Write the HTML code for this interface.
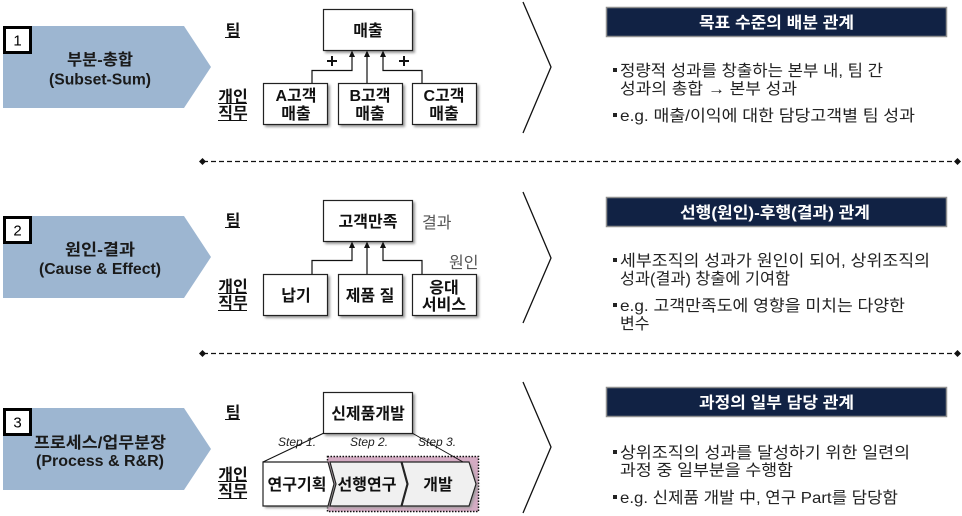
<!DOCTYPE html>
<html><head><meta charset="utf-8">
<style>
html,body{margin:0;padding:0;background:#fff;}
svg{display:block;}
text{font-family:"Liberation Sans","Noto Sans CJK KR",sans-serif;}
</style></head>
<body>
<svg width="962" height="516" viewBox="0 0 962 516" xmlns="http://www.w3.org/2000/svg">
<defs>
<filter id="sh" x="-20%" y="-20%" width="140%" height="140%">
<feGaussianBlur stdDeviation="1.2"/>
</filter>
</defs>

<!-- ===== LEFT CHEVRONS ===== -->
<g fill="#9db6d1">
<polygon points="3,26 184,26 211,67 184,108 3,108"/>
<polygon points="3,216 184,216 211,257 184,298 3,298"/>
<polygon points="3,408 184,408 211,449 184,490 3,490"/>
</g>
<g fill="#fff" stroke="#000" stroke-width="3">
<rect x="4.5" y="27.5" width="26" height="25"/>
<rect x="4.5" y="217.5" width="26" height="25"/>
<rect x="4.5" y="409.5" width="26" height="25"/>
</g>
<g font-size="15" text-anchor="middle" fill="#000">
<text x="17.5" y="45.5">1</text>
<text x="17.5" y="235.5">2</text>
<text x="17.5" y="427.5">3</text>
</g>
<g font-size="16" font-weight="bold" fill="#1a1a1a">
<text x="67" y="65" textLength="66" lengthAdjust="spacingAndGlyphs">부분-총합</text>
<text x="65" y="255" textLength="70" lengthAdjust="spacingAndGlyphs">원인-결과</text>
<text x="34" y="448" textLength="132" lengthAdjust="spacingAndGlyphs">프로세스/업무분장</text>
</g>
<g font-size="16" font-weight="bold" fill="#1a1a1a">
<text x="49" y="84.5" textLength="102" lengthAdjust="spacingAndGlyphs">(Subset-Sum)</text>
<text x="39" y="274" textLength="122" lengthAdjust="spacingAndGlyphs">(Cause &amp; Effect)</text>
<text x="36" y="466" textLength="128" lengthAdjust="spacingAndGlyphs">(Process &amp; R&amp;R)</text>
</g>

<!-- ===== 팀 / 개인 직무 labels ===== -->
<g font-size="16" font-weight="bold" text-anchor="middle" fill="#111">
<text x="233" y="36">팀</text>
<text x="233" y="102">개인</text>
<text x="233" y="118.5">직무</text>
<text x="233" y="226">팀</text>
<text x="233" y="292">개인</text>
<text x="233" y="308.5">직무</text>
<text x="233" y="418">팀</text>
<text x="233" y="480">개인</text>
<text x="233" y="496.5">직무</text>
</g>
<g stroke="#111" stroke-width="1">
<line x1="225" y1="37.5" x2="240" y2="37.5"/>
<line x1="218" y1="103.5" x2="247" y2="103.5"/>
<line x1="218" y1="120.5" x2="247" y2="120.5"/>
<line x1="225" y1="227.5" x2="240" y2="227.5"/>
<line x1="218" y1="293.5" x2="247" y2="293.5"/>
<line x1="218" y1="310.5" x2="247" y2="310.5"/>
<line x1="225" y1="419.5" x2="240" y2="419.5"/>
<line x1="218" y1="481.5" x2="247" y2="481.5"/>
<line x1="218" y1="498.5" x2="247" y2="498.5"/>
</g>

<!-- ===== SECTION 1 DIAGRAM ===== -->
<g fill="#999" filter="url(#sh)">
<rect x="325" y="11" width="90" height="42"/>
<rect x="265" y="85" width="65" height="42"/>
<rect x="340" y="85" width="65" height="42"/>
<rect x="414" y="85" width="65" height="42"/>
</g>
<g fill="#fff" stroke="#222" stroke-width="1.2">
<rect x="323.5" y="9.5" width="89" height="41"/>
<rect x="263.5" y="83.5" width="64" height="41"/>
<rect x="338.5" y="83.5" width="64" height="41"/>
<rect x="412.5" y="83.5" width="64" height="41"/>
</g>
<g font-size="16" font-weight="bold" text-anchor="middle" fill="#111">
<text x="368" y="36">매출</text>
<text x="296" y="101">A고객</text>
<text x="296" y="119">매출</text>
<text x="370" y="101">B고객</text>
<text x="370" y="119">매출</text>
<text x="444" y="101">C고객</text>
<text x="444" y="119">매출</text>
</g>
<g fill="none" stroke="#111" stroke-width="1.2">
<polyline points="312,83 312,70.5 352,70.5 352,56"/>
<line x1="367" y1="83" x2="367" y2="56"/>
<polyline points="422,83 422,70.5 383,70.5 383,56"/>
</g>
<g fill="#111">
<polygon points="349,57 355,57 352,50.5"/>
<polygon points="364,57 370,57 367,50.5"/>
<polygon points="380,57 386,57 383,50.5"/>
</g>
<g stroke="#111" stroke-width="2">
<line x1="327" y1="61" x2="337" y2="61"/><line x1="332" y1="56" x2="332" y2="66"/>
<line x1="399" y1="61" x2="409" y2="61"/><line x1="404" y1="56" x2="404" y2="66"/>
</g>

<!-- ===== SECTION 2 DIAGRAM ===== -->
<g fill="#999" filter="url(#sh)">
<rect x="325" y="202" width="90" height="42"/>
<rect x="265" y="276" width="65" height="42"/>
<rect x="340" y="276" width="65" height="42"/>
<rect x="414" y="276" width="65" height="42"/>
</g>
<g fill="#fff" stroke="#222" stroke-width="1.2">
<rect x="323.5" y="200.5" width="89" height="41"/>
<rect x="263.5" y="274.5" width="64" height="41"/>
<rect x="338.5" y="274.5" width="64" height="41"/>
<rect x="412.5" y="274.5" width="64" height="41"/>
</g>
<g font-size="16" font-weight="bold" text-anchor="middle" fill="#111">
<text x="368" y="227">고객만족</text>
<text x="296" y="301">납기</text>
<text x="370" y="301">제품 질</text>
<text x="444" y="293">응대</text>
<text x="444" y="310">서비스</text>
</g>
<g font-size="16" fill="#555">
<text x="422" y="228">결과</text>
<text x="449" y="268">원인</text>
</g>
<g fill="none" stroke="#111" stroke-width="1.2">
<polyline points="312,274 312,260.5 352,260.5 352,247"/>
<line x1="367" y1="274" x2="367" y2="247"/>
<polyline points="422,274 422,260.5 383,260.5 383,247"/>
</g>
<g fill="#111">
<polygon points="349,248 355,248 352,241.5"/>
<polygon points="364,248 370,248 367,241.5"/>
<polygon points="380,248 386,248 383,241.5"/>
</g>

<!-- ===== SECTION 3 DIAGRAM ===== -->
<rect x="327.5" y="456.5" width="151" height="55" fill="#d4abc3" stroke="#111" stroke-width="1.5" stroke-dasharray="1.5,1.5"/>
<g fill="#999" filter="url(#sh)">
<rect x="325" y="394" width="90" height="42"/>
<polygon points="265,464 330,464 336,486 330,508 265,508"/>
<polygon points="332,464 403,464 409,486 403,508 332,508 338,486"/>
<polygon points="404,464 471,464 478,486 471,508 404,508 410,486"/>
</g>
<rect x="323.5" y="392.5" width="89" height="41" fill="#fff" stroke="#222" stroke-width="1.2"/>
<g stroke="#222" stroke-width="1.2">
<polygon points="263,462 328,462 334,484 328,506 263,506" fill="#fff"/>
<polygon points="330,462 401,462 407,484 401,506 330,506 336,484" fill="#f0f0f0"/>
<polygon points="402,462 469,462 476,484 469,506 402,506 408,484" fill="#f0f0f0"/>
</g>
<g font-size="12" font-style="italic" fill="#222">
<text x="278" y="446">Step 1.</text>
<text x="350" y="446">Step 2.</text>
<text x="418" y="446">Step 3.</text>
</g>
<g stroke="#111" stroke-width="1">
<line x1="324" y1="433" x2="263" y2="462"/>
<line x1="412" y1="433" x2="463" y2="462"/>
</g>
<g font-size="16" font-weight="bold" text-anchor="middle" fill="#111">
<text x="368" y="419">신제품개발</text>
<text x="297" y="490">연구기획</text>
<text x="367" y="490">선행연구</text>
<text x="438" y="490">개발</text>
</g>

<!-- ===== DASHED SEPARATORS ===== -->
<g stroke="#111" stroke-width="1.2" stroke-dasharray="5,3">
<line x1="203" y1="161.5" x2="956" y2="161.5"/>
<line x1="203" y1="353.5" x2="956" y2="353.5"/>
</g>
<g fill="#111">
<polygon points="199,161.5 202.5,158 206,161.5 202.5,165"/>
<polygon points="954,161.5 957.5,158 961,161.5 957.5,165"/>
<polygon points="199,353.5 202.5,350 206,353.5 202.5,357"/>
<polygon points="954,353.5 957.5,350 961,353.5 957.5,357"/>
</g>

<!-- ===== RIGHT OUTLINE CHEVRONS ===== -->
<g fill="none" stroke="#111" stroke-width="1.3">
<polyline points="523,2 551,67 523,133"/>
<polyline points="523,192 551,258 523,323"/>
<polyline points="523,382 551,447 523,513"/>
</g>

<!-- ===== HEADERS ===== -->
<g fill="#112244" stroke="#8f8f8f" stroke-width="1.5">
<rect x="606.5" y="7.5" width="340" height="29"/>
<rect x="606.5" y="197.5" width="340" height="29"/>
<rect x="606.5" y="387.5" width="340" height="29"/>
</g>
<g font-size="16" font-weight="bold" fill="#fff">
<text x="699" y="28" textLength="155" lengthAdjust="spacingAndGlyphs">목표 수준의 배분 관계</text>
<text x="680" y="218" textLength="190" lengthAdjust="spacingAndGlyphs">선행(원인)-후행(결과) 관계</text>
<text x="699" y="408" textLength="155" lengthAdjust="spacingAndGlyphs">과정의 일부 담당 관계</text>
</g>

<!-- ===== BULLETS ===== -->
<g fill="#222">
<rect x="613" y="68" width="4" height="4"/>
<rect x="613" y="113" width="4" height="4"/>
<rect x="613" y="258" width="4" height="4"/>
<rect x="613" y="303" width="4" height="4"/>
<rect x="613" y="450" width="4" height="4"/>
<rect x="613" y="495" width="4" height="4"/>
</g>
<g font-size="16" fill="#222">
<text x="620" y="76" textLength="263" lengthAdjust="spacingAndGlyphs">정량적 성과를 창출하는 본부 내, 팀 간</text>
<text x="620" y="94" textLength="177" lengthAdjust="spacingAndGlyphs">성과의 총합 → 본부 성과</text>
<text x="620" y="121" textLength="295" lengthAdjust="spacingAndGlyphs">e.g. 매출/이익에 대한 담당고객별 팀 성과</text>
<text x="620" y="266" textLength="310" lengthAdjust="spacingAndGlyphs">세부조직의 성과가 원인이 되어, 상위조직의</text>
<text x="620" y="284" textLength="170" lengthAdjust="spacingAndGlyphs">성과(결과) 창출에 기여함</text>
<text x="620" y="311" textLength="285" lengthAdjust="spacingAndGlyphs">e.g. 고객만족도에 영향을 미치는 다양한</text>
<text x="620" y="329">변수</text>
<text x="620" y="458" textLength="290" lengthAdjust="spacingAndGlyphs">상위조직의 성과를 달성하기 위한 일련의</text>
<text x="620" y="475.5" textLength="173" lengthAdjust="spacingAndGlyphs">과정 중 일부분을 수행함</text>
<text x="620" y="503" textLength="278" lengthAdjust="spacingAndGlyphs">e.g. 신제품 개발 中, 연구 Part를 담당함</text>
</g>
</svg>
</body></html>
